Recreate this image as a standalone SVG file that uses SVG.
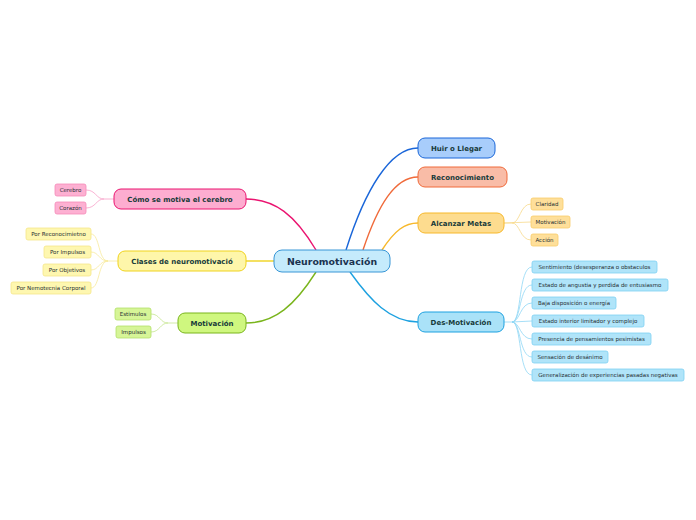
<svg xmlns="http://www.w3.org/2000/svg" width="696" height="520" viewBox="0 0 696 520">
<style>
text{font-family:"DejaVu Sans","Verdana",sans-serif;text-anchor:middle;dominant-baseline:central}
.c{font-size:9.4px;font-weight:bold;fill:#1b3350}
.m{font-size:7px;font-weight:bold;fill:#173a3a}
.s{font-size:5.5px;fill:#262f33}
.ln{fill:none;stroke-width:1.4}
.sl{fill:none;stroke-width:0.8}
</style>
<rect width="696" height="520" fill="#ffffff"/>
<g id="connectors">
<path class="ln" stroke="#1a66d9" d="M346,250 C365,190 390,148 418,148"/>
<path class="ln" stroke="#f06a3a" d="M363,250 C378,205 395,177 418,177"/>
<path class="ln" stroke="#f7b82b" d="M382,250 C395,230 405,223 418,223"/>
<path class="ln" stroke="#1da1e0" d="M350,272 C370,300 390,322 418,322"/>
<path class="ln" stroke="#ea1470" d="M316,250 C295,215 275,199 246,199"/>
<path class="ln" stroke="#f0d31d" d="M274,261 L246,261"/>
<path class="ln" stroke="#7ab51d" d="M316,272 C295,305 275,323 246,323"/>
<g stroke="#f7d98a">
<path class="sl" d="M504,223 L512,223 C520,223 520,204 531,204"/>
<path class="sl" d="M504,223 L531,222"/>
<path class="sl" d="M512,223 C520,223 520,240 531,240"/>
</g>
<g stroke="#8fd7f5">
<path class="sl" d="M504,322 L512,322 C522,322 518,267 532,267"/>
<path class="sl" d="M512,322 C521,322 519,285 532,285"/>
<path class="sl" d="M512,322 C520,322 520,303 532,303"/>
<path class="sl" d="M512,322 L532,321"/>
<path class="sl" d="M512,322 C520,322 520,339 532,339"/>
<path class="sl" d="M512,322 C521,322 519,357 532,357"/>
<path class="sl" d="M512,322 C522,322 518,375 532,375"/>
</g>
<g stroke="#f8a0c8">
<path class="sl" d="M114,199 L104,199 C96,199 96,190 86,190"/>
<path class="sl" d="M104,199 C96,199 96,208 86,208"/>
</g>
<g stroke="#f7ea9a">
<path class="sl" d="M118,261 L108,261 C98,261 100,234 91,234"/>
<path class="sl" d="M108,261 C99,261 99,252 91,252"/>
<path class="sl" d="M108,261 C99,261 99,270 91,270"/>
<path class="sl" d="M108,261 C98,261 100,288 91,288"/>
</g>
<g stroke="#c5e68f">
<path class="sl" d="M178,323 L168,323 C160,323 160,314 151,314"/>
<path class="sl" d="M168,323 C160,323 160,332 151,332"/>
</g>
</g>
<g id="center">
<rect x="274" y="250" width="116" height="22" rx="8" fill="#c5ebfc" stroke="#3896d6" stroke-width="1"/>
<text class="c" x="332" y="261.5">Neuromotivación</text>
</g>
<g id="huir">
<rect x="418" y="138" width="77" height="20" rx="7" fill="#a8cdfb" stroke="#1a66d9" stroke-width="1"/>
<text class="m" x="456.5" y="148.5">Huir o Llegar</text>
</g>
<g id="reconocimiento">
<rect x="418" y="167" width="89" height="20" rx="7" fill="#f9bca7" stroke="#f06a3a" stroke-width="1"/>
<text class="m" x="462.5" y="177.5">Reconocimiento</text>
</g>
<g id="alcanzar">
<rect x="418" y="213" width="86" height="20" rx="7" fill="#fddc8f" stroke="#f7b82b" stroke-width="1"/>
<text class="m" x="461" y="223.5">Alcanzar Metas</text>
</g>
<g id="desmotivacion">
<rect x="418" y="312" width="86" height="20" rx="7" fill="#aae2f8" stroke="#1da1e0" stroke-width="1"/>
<text class="m" x="461" y="322.5">Des-Motivación</text>
</g>
<g id="como">
<rect x="114" y="189" width="132" height="20" rx="7" fill="#fdadd0" stroke="#ea1470" stroke-width="1"/>
<text class="m" x="180" y="199.5">Cómo se motiva el cerebro</text>
</g>
<g id="clases">
<rect x="118" y="251" width="128" height="20" rx="7" fill="#fef6aa" stroke="#f0d31d" stroke-width="1"/>
<text class="m" x="182" y="261.5">Clases de neuromotivació</text>
</g>
<g id="motivacion">
<rect x="178" y="313" width="68" height="20" rx="7" fill="#cff77f" stroke="#7ab51d" stroke-width="1"/>
<text class="m" x="212" y="323.5">Motivación</text>
</g>
<g id="cerebro"><rect x="55" y="184" width="31" height="12" rx="2" fill="#fdb0d2" stroke="#f58ab8" stroke-width="0.8"/><text class="s" x="70.5" y="190.3">Cerebro</text></g>
<g id="corazon"><rect x="55" y="202" width="31" height="12" rx="2" fill="#fdb0d2" stroke="#f58ab8" stroke-width="0.8"/><text class="s" x="70.5" y="208.3">Corazón</text></g>
<g id="porreconocimietno"><rect x="26" y="228" width="65" height="12" rx="2" fill="#fef7b0" stroke="#f5e68a" stroke-width="0.8"/><text class="s" x="58.5" y="234.3">Por Reconocimietno</text></g>
<g id="porimpulsos"><rect x="44" y="246" width="47" height="12" rx="2" fill="#fef7b0" stroke="#f5e68a" stroke-width="0.8"/><text class="s" x="67.5" y="252.3">Por Impulsos</text></g>
<g id="porobjetivos"><rect x="43" y="264" width="48" height="12" rx="2" fill="#fef7b0" stroke="#f5e68a" stroke-width="0.8"/><text class="s" x="67" y="270.3">Por Objetivos</text></g>
<g id="pornemotecnia"><rect x="11" y="282" width="80" height="12" rx="2" fill="#fef7b0" stroke="#f5e68a" stroke-width="0.8"/><text class="s" x="51" y="288.3">Por Nemotecnia Corporal</text></g>
<g id="estimulos"><rect x="115" y="308" width="36" height="12" rx="2" fill="#d6f597" stroke="#b2df6a" stroke-width="0.8"/><text class="s" x="133" y="314.3">Estimulos</text></g>
<g id="impulsos"><rect x="116" y="326" width="35" height="12" rx="2" fill="#d6f597" stroke="#b2df6a" stroke-width="0.8"/><text class="s" x="133.5" y="332.3">Impulsos</text></g>
<g id="claridad"><rect x="531" y="198" width="32" height="12" rx="2" fill="#fedf9a" stroke="#f9cb6a" stroke-width="0.8"/><text class="s" x="547" y="204.3">Claridad</text></g>
<g id="motivacion2"><rect x="531" y="216" width="39" height="12" rx="2" fill="#fedf9a" stroke="#f9cb6a" stroke-width="0.8"/><text class="s" x="550.5" y="222.3">Motivación</text></g>
<g id="accion"><rect x="531" y="234" width="27" height="12" rx="2" fill="#fedf9a" stroke="#f9cb6a" stroke-width="0.8"/><text class="s" x="544.5" y="240.3">Acción</text></g>
<g id="sentimiento"><rect x="532" y="261" width="125" height="12" rx="2" fill="#b0e4f9" stroke="#7fd0f2" stroke-width="0.8"/><text class="s" x="594.5" y="267.3">Sentimiento (desesperanza o obstaculos</text></g>
<g id="angustia"><rect x="532" y="279" width="136" height="12" rx="2" fill="#b0e4f9" stroke="#7fd0f2" stroke-width="0.8"/><text class="s" x="600" y="285.3">Estado de angustia y perdida de entusiasmo</text></g>
<g id="baja"><rect x="532" y="297" width="84" height="12" rx="2" fill="#b0e4f9" stroke="#7fd0f2" stroke-width="0.8"/><text class="s" x="574" y="303.3">Baja disposición o energía</text></g>
<g id="interior"><rect x="532" y="315" width="112" height="12" rx="2" fill="#b0e4f9" stroke="#7fd0f2" stroke-width="0.8"/><text class="s" x="588" y="321.3">Estado interior limitador y complejo</text></g>
<g id="presencia"><rect x="532" y="333" width="119" height="12" rx="2" fill="#b0e4f9" stroke="#7fd0f2" stroke-width="0.8"/><text class="s" x="591.5" y="339.3">Presencia de pensamientos pesimistas</text></g>
<g id="sensacion"><rect x="532" y="351" width="76" height="12" rx="2" fill="#b0e4f9" stroke="#7fd0f2" stroke-width="0.8"/><text class="s" x="570" y="357.3">Sensación de desánimo</text></g>
<g id="generalizacion"><rect x="532" y="369" width="152" height="12" rx="2" fill="#b0e4f9" stroke="#7fd0f2" stroke-width="0.8"/><text class="s" x="608" y="375.3">Generalización de experiencias pasadas negativas</text></g>
</svg>
